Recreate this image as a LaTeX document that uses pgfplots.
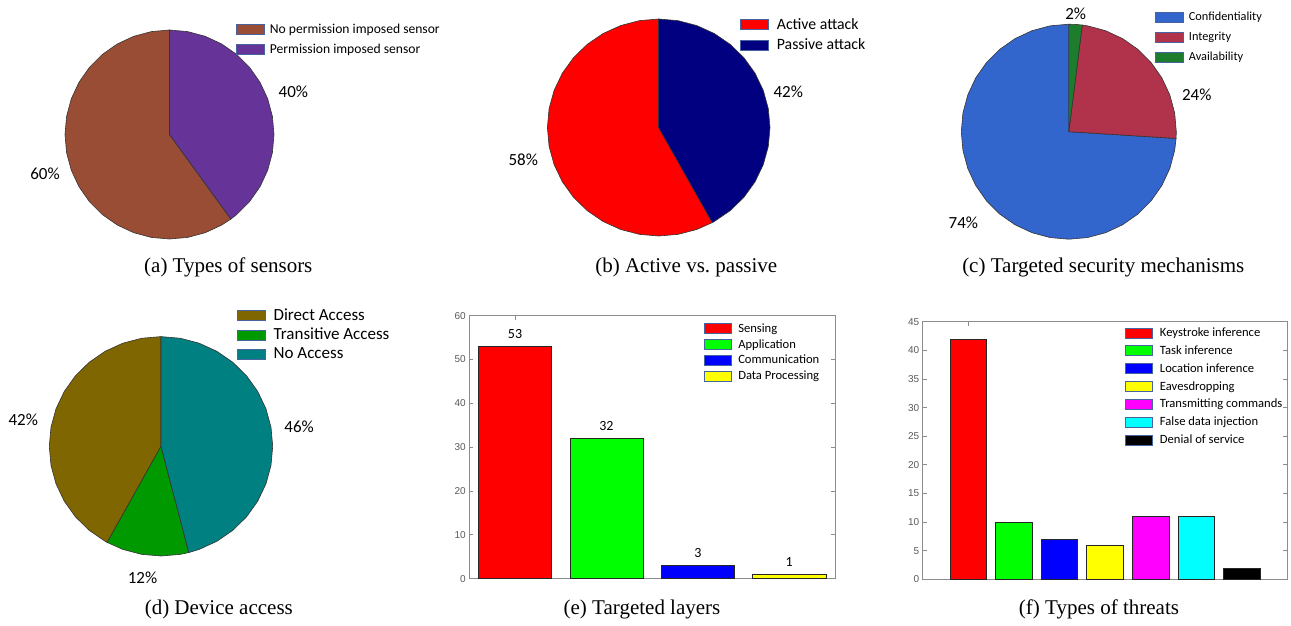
\documentclass[border=0pt]{standalone}
\usepackage{fontspec}
\setmainfont{Carlito}
\newfontfamily\serif{Liberation Serif}
\newfontfamily\arial{Liberation Sans}
\usepackage{pgfplots}
\pgfplotsset{compat=1.18}

\definecolor{pbrown}{RGB}{153,77,52}
\definecolor{ppurple}{RGB}{102,51,153}
\definecolor{pnavy}{RGB}{0,0,128}
\definecolor{pblue}{RGB}{51,102,204}
\definecolor{pcrimson}{RGB}{176,50,75}
\definecolor{pgreen}{RGB}{30,125,45}
\definecolor{polive}{RGB}{128,102,0}
\definecolor{dgreen}{RGB}{0,153,0}
\definecolor{pteal}{RGB}{0,128,128}
\definecolor{legedge}{RGB}{70,100,160}
\definecolor{axgray}{RGB}{140,140,140}
\definecolor{cred}{RGB}{255,0,0}
\definecolor{cgreen}{RGB}{0,255,0}
\definecolor{cblue}{RGB}{0,0,255}
\definecolor{cyellow}{RGB}{255,255,0}
\definecolor{cmagenta}{RGB}{255,0,255}
\definecolor{ccyan}{RGB}{0,255,255}
\definecolor{cblack}{RGB}{0,0,0}

\pgfplotsset{
  pie/.style={hide axis, scale only axis, anchor=center,
    xmin=-1, xmax=1, ymin=-1, ymax=1, clip=false,
    legend cell align=left,
    legend image code/.code={\draw[##1, draw=legedge, line width=0.7pt] (0pt,-5pt) rectangle (28pt,5pt);}},
  wedge/.style={fill=#1, draw=black!80, line width=0.6pt, data cs=polar},
  plabel/.style={draw=none, mark=none, forget plot, nodes near coords,
    point meta=explicit symbolic,
    nodes near coords style={anchor=center, inner sep=0pt, font=\fontsize{17}{20}\selectfont}},
  barax/.style={scale only axis, anchor=south west, clip=false,
    axis line style={draw=axgray, line width=0.8pt},
    tick style={draw=axgray, line width=0.8pt},
    tick align=inside, major tick length=4pt,
    xtick={1}, xticklabels={},
    ticklabel style={font=\arial\fontsize{10}{12}\selectfont, text=black!65},
    /pgf/number format/assume math mode=true,
    legend cell align=left,
    legend image code/.code={\draw[##1, draw=legedge, line width=0.7pt] (0pt,-5pt) rectangle (27pt,5pt);}},
  bar/.style={ybar, bar width=0.8, bar shift=0pt, fill=#1, draw=black!85, line width=0.6pt},
  vlab/.style={nodes near coords, nodes near coords style={anchor=base, yshift=8pt, inner sep=0pt, font=\fontsize{14}{16}\selectfont, text=black}},
}

\begin{document}
\begin{tikzpicture}
\path[use as bounding box] (0pt,0pt) rectangle (1291pt,-625pt);

% (a) Types of sensors
\begin{axis}[pie, at={(169.5pt,-134.5pt)}, x=104.5pt, y=104.5pt,
  legend style={draw=none, fill=none, inner sep=0pt, row sep=5pt, column sep=3pt,
    anchor=north west, at={(0.818,1.039)}, font=\fontsize{13.6}{16}\selectfont}]
\addplot[wedge=pbrown] coordinates {(0,0) (90,1) (100,1) (110,1) (120,1) (130,1) (140,1) (150,1) (160,1) (170,1) (180,1) (190,1) (200,1) (210,1) (220,1) (230,1) (240,1) (250,1) (260,1) (270,1) (280,1) (290,1) (300,1) (306,1)} -- cycle;
\addlegendentry{No permission imposed sensor}
\addplot[wedge=ppurple] coordinates {(0,0) (306,1) (310,1) (320,1) (330,1) (340,1) (350,1) (360,1) (370,1) (380,1) (390,1) (400,1) (410,1) (420,1) (430,1) (440,1) (450,1)} -- cycle;
\addlegendentry{Permission imposed sensor}
\addplot[plabel] coordinates {(1.185,0.41) [40\%] (-1.191,-0.378) [60\%]};
\end{axis}

% (b) Active vs passive
\begin{axis}[pie, at={(658.7pt,-127.5pt)}, x=111.3pt, y=108.5pt,
  legend style={draw=none, fill=none, inner sep=0pt, row sep=4pt, column sep=6pt,
    anchor=north west, at={(0.865,1.013)}, font=\fontsize{15.8}{18}\selectfont}]
\addplot[wedge=cred] coordinates {(0,0) (90,1) (100,1) (110,1) (120,1) (130,1) (140,1) (150,1) (160,1) (170,1) (180,1) (190,1) (200,1) (210,1) (220,1) (230,1) (240,1) (250,1) (260,1) (270,1) (280,1) (290,1) (298.8,1)} -- cycle;
\addlegendentry{Active attack}
\addplot[wedge=pnavy] coordinates {(0,0) (298.8,1) (300,1) (310,1) (320,1) (330,1) (340,1) (350,1) (360,1) (370,1) (380,1) (390,1) (400,1) (410,1) (420,1) (430,1) (440,1) (450,1)} -- cycle;
\addlegendentry{Passive attack}
\addplot[plabel] coordinates {(1.164,0.33) [42\%] (-1.217,-0.293) [58\%]};
\end{axis}

% (c) Targeted security mechanisms
\begin{axis}[pie, at={(1068.8pt,-131.7pt)}, x=107.5pt, y=107.5pt,
  legend style={draw=none, fill=none, inner sep=0pt, row sep=6pt, column sep=3pt,
    anchor=north west, at={(0.901,1.065)}, font=\fontsize{12.3}{15}\selectfont}]
\addplot[wedge=pblue] coordinates {(0,0) (90,1) (100,1) (110,1) (120,1) (130,1) (140,1) (150,1) (160,1) (170,1) (180,1) (190,1) (200,1) (210,1) (220,1) (230,1) (240,1) (250,1) (260,1) (270,1) (280,1) (290,1) (300,1) (310,1) (320,1) (330,1) (340,1) (350,1) (356.4,1)} -- cycle;
\addlegendentry{Confidentiality}
\addplot[wedge=pcrimson] coordinates {(0,0) (356.4,1) (360,1) (370,1) (380,1) (390,1) (400,1) (410,1) (420,1) (430,1) (440,1) (442.8,1)} -- cycle;
\addlegendentry{Integrity}
\addplot[wedge=pgreen] coordinates {(0,0) (442.8,1) (446,1) (450,1)} -- cycle;
\addlegendentry{Availability}
\addplot[plabel] coordinates {(0.064,1.095) [2\%] (1.19,0.348) [24\%] (-0.981,-0.847) [74\%]};
\end{axis}

% (d) Device access
\begin{axis}[pie, at={(161pt,-446.3pt)}, x=111.7pt, y=109.7pt,
  legend style={draw=none, fill=none, inner sep=0pt, row sep=2.5pt, column sep=6pt,
    anchor=north west, at={(0.839,1.138)}, font=\fontsize{17}{20}\selectfont}]
\addplot[wedge=polive] coordinates {(0,0) (90,1) (100,1) (110,1) (120,1) (130,1) (140,1) (150,1) (160,1) (170,1) (180,1) (190,1) (200,1) (210,1) (220,1) (230,1) (240,1) (241.2,1)} -- cycle;
\addlegendentry{Direct Access}
\addplot[wedge=dgreen] coordinates {(0,0) (241.2,1) (250,1) (260,1) (270,1) (280,1) (284.4,1)} -- cycle;
\addlegendentry{Transitive Access}
\addplot[wedge=pteal] coordinates {(0,0) (284.4,1) (290,1) (300,1) (310,1) (320,1) (330,1) (340,1) (350,1) (360,1) (370,1) (380,1) (390,1) (400,1) (410,1) (420,1) (430,1) (440,1) (450,1)} -- cycle;
\addlegendentry{No Access}
\addplot[plabel] coordinates {(-1.233,0.24) [42\%] (1.237,0.179) [46\%] (-0.166,-1.194) [12\%]};
\end{axis}

% (e) Targeted layers
\begin{axis}[barax, at={(469.3pt,-578.7pt)}, width=365.7pt, height=263pt,
  xmin=0.5, xmax=4.5, ymin=0, ymax=60, ytick={0,10,...,60},
  legend style={draw=none, fill=none, inner sep=0pt, row sep=1.7pt, column sep=5pt,
    anchor=north west, at={(0.640,0.979)}, font=\fontsize{12.6}{15}\selectfont}]
\addplot[bar=cred, vlab] coordinates {(1,53)};
\addlegendentry{Sensing}
\addplot[bar=cgreen, vlab] coordinates {(2,32)};
\addlegendentry{Application}
\addplot[bar=cblue, vlab] coordinates {(3,3)};
\addlegendentry{Communication}
\addplot[bar=cyellow, vlab] coordinates {(4,1)};
\addlegendentry{Data Processing}
\end{axis}

% (f) Types of threats
\begin{axis}[barax, at={(922.7pt,-579.3pt)}, width=364.6pt, height=257.6pt,
  xmin=0, xmax=8, ymin=0, ymax=45, ytick={0,5,...,45},
  legend style={draw=none, fill=none, inner sep=0pt, row sep=3.6pt, column sep=5pt,
    anchor=north west, at={(0.555,0.985)}, font=\fontsize{12.6}{15}\selectfont}]
\addplot[bar=cred] coordinates {(1,42)};
\addlegendentry{Keystroke inference}
\addplot[bar=cgreen] coordinates {(2,10)};
\addlegendentry{Task inference}
\addplot[bar=cblue] coordinates {(3,7)};
\addlegendentry{Location inference}
\addplot[bar=cyellow] coordinates {(4,6)};
\addlegendentry{Eavesdropping}
\addplot[bar=cmagenta] coordinates {(5,11)};
\addlegendentry{Transmitting commands}
\addplot[bar=ccyan] coordinates {(6,11)};
\addlegendentry{False data injection}
\addplot[bar=cblack] coordinates {(7,2)};
\addlegendentry{Denial of service}
\end{axis}

% captions
\begin{scope}[every node/.style={anchor=base, inner sep=0pt, font=\serif\fontsize{21}{25}\selectfont}]
\node at (228.3pt,-272pt) {(a) Types of sensors};
\node at (686.3pt,-272pt) {(b) Active vs.\ passive};
\node at (1103.3pt,-272pt) {(c) Targeted security mechanisms};
\node at (218.8pt,-614pt) {(d) Device access};
\node at (642pt,-614pt) {(e) Targeted layers};
\node at (1099pt,-614pt) {(f) Types of threats};
\end{scope}
\end{tikzpicture}
\end{document}
